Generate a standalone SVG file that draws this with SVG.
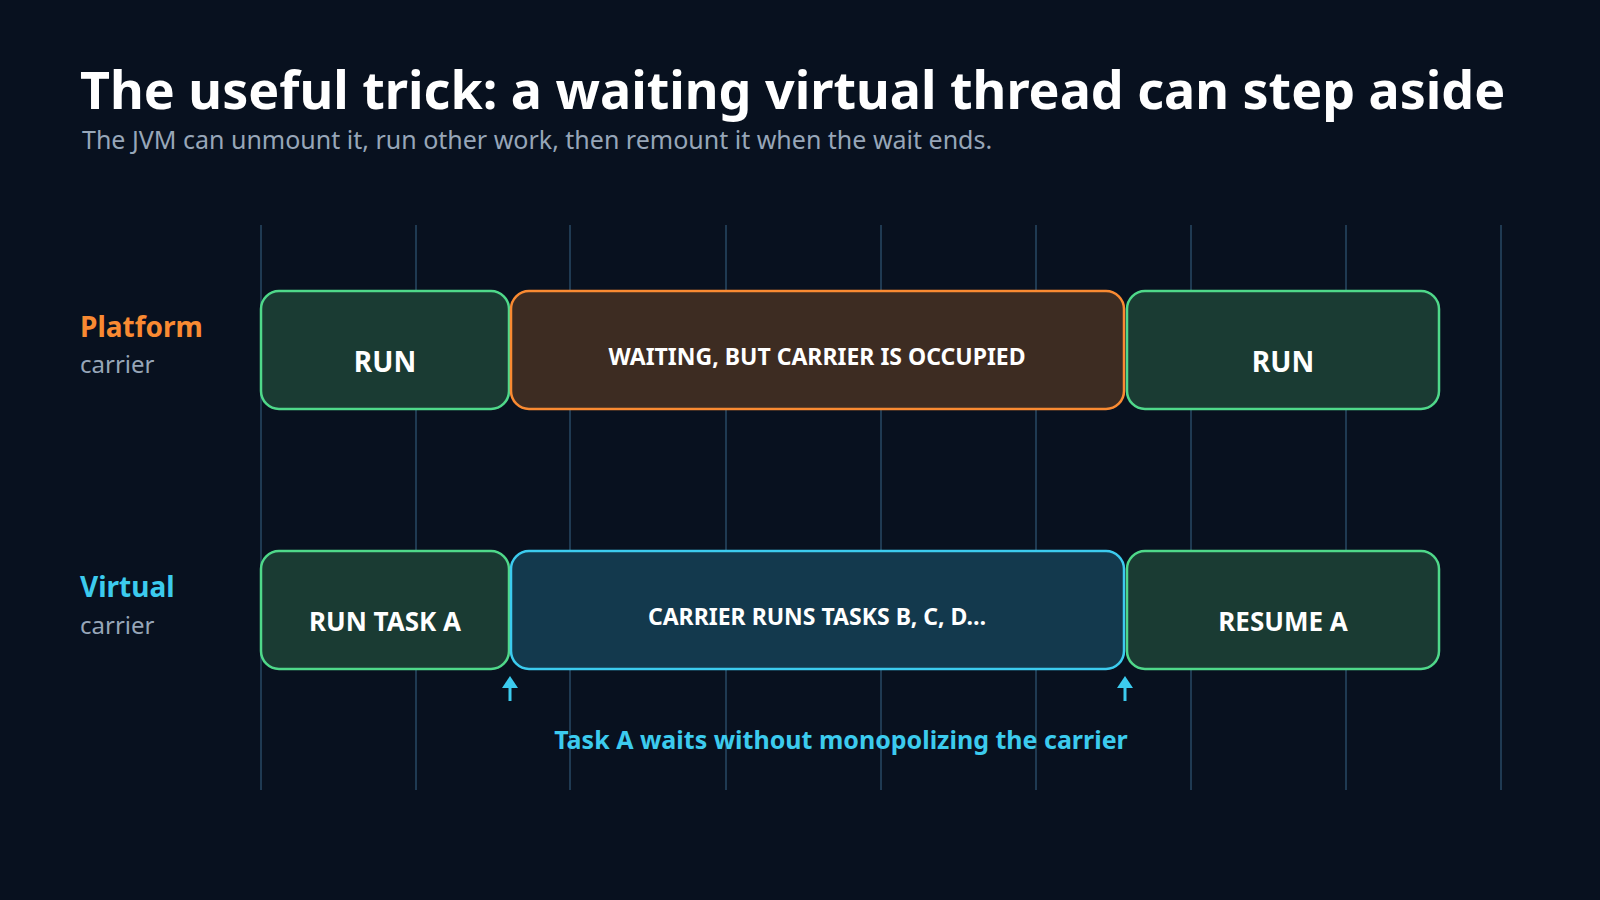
<svg xmlns="http://www.w3.org/2000/svg" width="1600" height="900" viewBox="0 0 1600 900">
<style>
text{font-family:"Noto Sans","Open Sans","Liberation Sans",sans-serif}
.grid{stroke:#1f3a52;stroke-width:2}
.g{fill:#1a3b33;stroke:#4fd88a;stroke-width:2.5}
.o{fill:#3d2c22;stroke:#f98a32;stroke-width:2.5}
.b{fill:#13394d;stroke:#3ccbee;stroke-width:2.5}
.bt{fill:#fff;font-weight:bold;text-anchor:middle}
.sub{fill:#97a6b8;font-size:24px}
</style>
<rect width="1600" height="900" fill="#08111f"/>
<text x="80" y="109" font-size="52" font-weight="bold" fill="#fff">The useful trick: a waiting virtual thread can step aside</text>
<text x="82" y="149" font-size="25" fill="#97a6b8">The JVM can unmount it, run other work, then remount it when the wait ends.</text>
<g id="grid">
<line class="grid" x1="261" y1="225" x2="261" y2="790"/><line class="grid" x1="416" y1="225" x2="416" y2="790"/><line class="grid" x1="570" y1="225" x2="570" y2="790"/><line class="grid" x1="726" y1="225" x2="726" y2="790"/><line class="grid" x1="881" y1="225" x2="881" y2="790"/><line class="grid" x1="1036" y1="225" x2="1036" y2="790"/><line class="grid" x1="1191" y1="225" x2="1191" y2="790"/><line class="grid" x1="1346" y1="225" x2="1346" y2="790"/><line class="grid" x1="1501" y1="225" x2="1501" y2="790"/>
</g>
<g id="labels">
<text x="80" y="337" font-size="28" font-weight="bold" fill="#f98a32">Platform</text>
<text x="80" y="373" class="sub">carrier</text>
<text x="80" y="597" font-size="28" font-weight="bold" fill="#3ccbee">Virtual</text>
<text x="80" y="634" class="sub">carrier</text>
</g>
<g id="p1"><rect class="g" x="261" y="291" width="248" height="118" rx="18"/><text class="bt" x="385" y="372" font-size="28">RUN</text></g>
<g id="p2"><rect class="o" x="511" y="291" width="613" height="118" rx="18"/><text class="bt" x="817" y="365" font-size="23">WAITING, BUT CARRIER IS OCCUPIED</text></g>
<g id="p3"><rect class="g" x="1127" y="291" width="312" height="118" rx="18"/><text class="bt" x="1283" y="372" font-size="28">RUN</text></g>
<g id="v1"><rect class="g" x="261" y="551" width="248" height="118" rx="18"/><text class="bt" x="385" y="631" font-size="26">RUN TASK A</text></g>
<g id="v2"><rect class="b" x="511" y="551" width="613" height="118" rx="18"/><text class="bt" x="817" y="625" font-size="23">CARRIER RUNS TASKS B, C, D…</text></g>
<g id="v3"><rect class="g" x="1127" y="551" width="312" height="118" rx="18"/><text class="bt" x="1283" y="631" font-size="26">RESUME A</text></g>
<g id="connectors" fill="#3ccbee" stroke="#3ccbee">
<line x1="510" y1="684" x2="510" y2="701" stroke-width="3"/><path d="M502 688 L510 676 L518 688Z" stroke="none"/>
<line x1="1125" y1="684" x2="1125" y2="701" stroke-width="3"/><path d="M1117 688 L1125 676 L1133 688Z" stroke="none"/>
</g>
<text x="841" y="749" font-size="25" font-weight="bold" fill="#3ccbee" text-anchor="middle">Task A waits without monopolizing the carrier</text>
</svg>
